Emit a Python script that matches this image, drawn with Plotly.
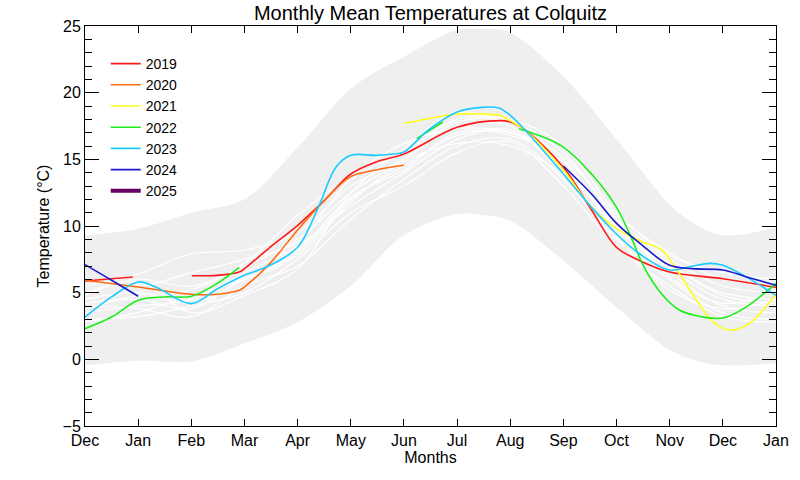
import plotly.graph_objects as go

months = ["Dec", "Jan", "Feb", "Mar", "Apr", "May", "Jun", "Jul", "Aug", "Sep", "Oct", "Nov", "Dec", "Jan"]
month_pos = list(range(14))

# Range band (record envelope)
band_x = [0, 1, 2, 3, 4, 5, 6, 7, 7.5, 8, 9, 10, 10.5, 11, 11.5, 12, 13]
band_upper = [9.3, 9.8, 11.0, 12.0, 15.9, 20.3, 22.7, 24.7, 24.8, 24.5, 21.2, 16.5, 14.0, 11.6, 10.1, 9.3, 9.9]
band_lower = [-0.45, -0.1, -0.15, 1.2, 2.8, 5.5, 9.3, 10.9, 10.8, 10.4, 7.4, 3.9, 2.2, 0.7, -0.1, -0.45, -0.3]

# Historical years (white lines), values at each month tick
hist_years = [
    [4.5, 5.0, 4.2, 6.0, 8.0, 12.0, 14.5, 16.8, 17.0, 14.5, 10.0, 7.0, 5.0, 4.5],
    [5.5, 6.4, 7.9, 8.2, 9.5, 13.0, 15.0, 17.5, 17.5, 15.0, 9.5, 6.5, 4.0, 3.5],
    [3.5, 4.0, 4.5, 6.5, 8.5, 11.5, 14.0, 16.5, 17.2, 14.0, 10.5, 7.5, 5.5, 5.0],
    [4.0, 3.8, 3.2, 5.5, 7.0, 10.5, 13.5, 16.0, 16.5, 13.5, 9.0, 6.0, 3.5, 3.0],
    [5.0, 6.0, 5.5, 7.0, 9.0, 12.5, 15.0, 17.8, 17.8, 15.5, 10.8, 8.0, 6.0, 5.8],
    [3.0, 3.2, 4.0, 5.0, 7.5, 11.0, 13.0, 15.5, 16.3, 13.0, 8.5, 5.5, 3.2, 2.8],
    [6.0, 5.5, 6.5, 7.5, 8.8, 13.5, 15.5, 18.0, 18.0, 16.0, 11.0, 7.8, 6.5, 6.0],
    [4.2, 4.5, 3.8, 6.2, 8.2, 12.2, 14.2, 17.0, 16.8, 14.8, 9.8, 6.8, 4.5, 4.0],
    [2.8, 3.5, 4.8, 6.0, 7.8, 11.8, 14.8, 16.2, 16.0, 13.8, 9.2, 5.2, 3.8, 4.5],
    [4.8, 5.8, 3.5, 4.8, 6.8, 12.5, 15.8, 18.5, 17.5, 14.2, 10.2, 7.2, 4.8, 4.2],
    [3.8, 4.8, 5.2, 7.2, 10.8, 13.8, 16.2, 17.3, 17.0, 15.2, 10.5, 6.2, 4.2, 5.2],
]

# Recent years (None = gap)
x_2019 = [0, 0.9, None, 2.01, 2.49, 2.9, 3.0, 3.48, 4, 4.5, 5, 5.47, 6, 7, 7.8, 8, 8.28, 9, 9.53, 10, 10.44, 11, 12, 13]
y_2019 = [5.87, 6.18, None, 6.27, 6.3, 6.55, 6.8, 8.4, 10.05, 11.9, 13.9, 14.8, 15.4, 17.4, 17.9, 17.8, 17.2, 14.4, 11.2, 8.4, 7.4, 6.55, 6.05, 5.4]

x_2020 = [0, 1, 2, 2.49, 2.9, 3, 3.48, 4, 4.5, 5, 5.47, 6]
y_2020 = [5.93, 5.43, 4.88, 4.88, 5.18, 5.43, 7.2, 9.7, 11.9, 13.7, 14.2, 14.55]

x_2021 = [6, 6.46, 7, 7.46, 7.79, 8, 8.28, 9, 9.53, 10, 10.44, 10.85, 11.1, 11.6, 11.85, 12.14, 12.5, 13]
y_2021 = [17.7, 18.05, 18.4, 18.4, 18.3, 17.9, 17.2, 14.2, 11.4, 9.8, 8.9, 8.2, 6.9, 3.9, 2.7, 2.2, 2.7, 4.9]

x_2022 = [0, 0.5, 1, 1.49, 2, 2.49, 2.9, None, 6.24, 6.73, None, 8.16, 8.95, 9.53, 10, 10.27, 10.52, 10.85, 11.18, 11.6, 12, 12.43, 13]
y_2022 = [2.3, 3.17, 4.43, 4.68, 4.73, 5.7, 6.9, None, 16.55, 17.8, None, 17.3, 16.05, 13.9, 11.4, 9.2, 6.9, 4.9, 3.7, 3.2, 3.1, 3.9, 5.7]

x_2023 = [0, 0.5, 1, 1.33, 2, 2.49, 3, 3.48, 4, 4.39, 4.72, 5, 5.47, 5.8, 6, 6.46, 7, 7.46, 7.79, 8, 8.28, 9, 9.53, 10, 10.44, 11, 11.43, 11.76, 12, 12.43, 13]
y_2023 = [3.17, 4.68, 5.8, 5.43, 4.18, 5.3, 6.3, 7.05, 8.4, 11.4, 14.4, 15.3, 15.3, 15.4, 15.55, 17.2, 18.55, 18.9, 18.85, 18.3, 17.2, 13.9, 11.4, 9.4, 7.9, 6.7, 7.0, 7.2, 7.05, 6.2, 4.8]

x_2024 = [0, 0.5, 1, None, 9, 9.53, 10, 10.44, 11, 11.43, 12, 12.43, 13]
y_2024 = [7.1, 5.93, 4.73, None, 14.5, 12.4, 10.2, 8.7, 7.05, 6.8, 6.7, 6.2, 5.55]

x_2025 = [None]
y_2025 = [None]

years = ["2019", "2020", "2021", "2022", "2023", "2024", "2025"]
year_x = [x_2019, x_2020, x_2021, x_2022, x_2023, x_2024, x_2025]
year_y = [y_2019, y_2020, y_2021, y_2022, y_2023, y_2024, y_2025]
year_colors = ["#ff1a1a", "#ff6a10", "#ffff1a", "#1aee1a", "#1ccaff", "#1a1acc", "#660066"]
year_widths = [1.6, 1.6, 1.6, 1.6, 1.6, 1.6, 4]

FONT = "Liberation Sans, Arial, Helvetica, sans-serif"

fig = go.Figure()

fig.add_trace(go.Scatter(x=band_x, y=band_lower, mode="lines", line=dict(width=0, shape="spline", color="#efefef"),
                         showlegend=False, hoverinfo="skip"))
fig.add_trace(go.Scatter(x=band_x, y=band_upper, mode="lines", line=dict(width=0, shape="spline", color="#efefef"),
                         fill="tonexty", fillcolor="#efefef", showlegend=False, hoverinfo="skip"))

for hy in hist_years:
    fig.add_trace(go.Scatter(x=month_pos, y=hy, mode="lines", line=dict(width=1.2, shape="spline", color="white"),
                             showlegend=False, hoverinfo="skip"))

for name, xs, ys, c, w in zip(years, year_x, year_y, year_colors, year_widths):
    fig.add_trace(go.Scatter(x=xs, y=ys, mode="lines", name=name, connectgaps=False, showlegend=True,
                             line=dict(width=w, shape="spline", color=c)))

axis_common = dict(showline=True, linecolor="black", linewidth=1, mirror="ticks", ticks="inside",
                   tickcolor="black", showgrid=False, zeroline=False, automargin=False,
                   tickfont=dict(size=16, color="black"))

fig.update_xaxes(range=[0, 13], tickvals=month_pos, ticktext=months, ticklen=7, tickwidth=1,
                 title=dict(text="Months", font=dict(size=16, color="black"), standoff=2), **axis_common)
fig.update_yaxes(range=[-5, 25], tickvals=[-5, 0, 5, 10, 15, 20, 25], ticklen=14, tickwidth=1,
                 minor=dict(dtick=1, ticks="inside", ticklen=7, tickcolor="black", showgrid=False),
                 title=dict(text="Temperature (°C)", font=dict(size=16, color="black"), standoff=8), **axis_common)

fig.update_layout(
    width=800, height=480,
    margin=dict(l=85, r=24, t=26, b=54),
    paper_bgcolor="white", plot_bgcolor="white",
    font=dict(family=FONT, color="black"),
    title=dict(text="Monthly Mean Temperatures at Colquitz", xref="paper", x=0.5, xanchor="center",
               y=0.972, yanchor="middle", font=dict(size=20, color="black")),
    legend=dict(x=0.03, y=0.945, xanchor="left", yanchor="top", bgcolor="rgba(0,0,0,0)", traceorder="normal",
                font=dict(size=14, color="black"), tracegroupgap=0, itemwidth=30),
    showlegend=True,
)

fig.write_html("out.html", config={"displayModeBar": False},
               post_script="document.body.style.margin='0px';")
